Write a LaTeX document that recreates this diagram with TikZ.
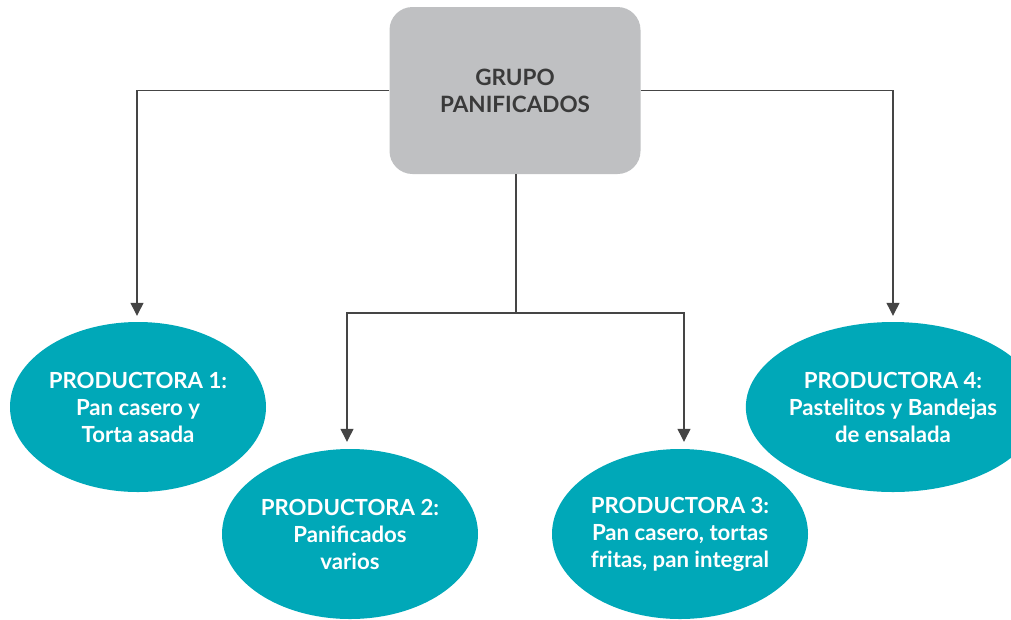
\documentclass[tikz,border=0pt]{standalone}
\usepackage{fontspec}
\setmainfont{Lato}
\usetikzlibrary{shapes.geometric,arrows.meta}
\definecolor{prodteal}{HTML}{00A8B8}
\definecolor{boxgray}{HTML}{BFC0C2}
\definecolor{linegray}{HTML}{454545}
\definecolor{textgray}{HTML}{3A3A3A}
\begin{document}
\begin{tikzpicture}[x=1pt,y=-1pt,
    prod/.style={ellipse,fill=prodteal,minimum width=256pt,minimum height=170pt,inner sep=0pt,
                 text=white,align=center,font=\fontsize{22.2}{27}\selectfont\bfseries},
    link/.style={draw=linegray,line width=1.2pt},
    arr/.style={link,-{Triangle[width=13pt,length=13pt]}}]
\useasboundingbox (0,0) rectangle (1011,619);
% grupo
\node[rounded corners=23pt,fill=boxgray,minimum width=251pt,minimum height=167pt,inner sep=0pt,
      text=textgray,align=center,font=\fontsize{22.5}{27}\selectfont\bfseries] (grupo) at (515,90.5) {GRUPO\\PANIFICADOS};
% productoras
\node[prod] (p1) at (138,407) {PRODUCTORA 1:\\Pan casero y\\Torta asada};
\node[prod] (p2) at (350,534) {PRODUCTORA 2:\\Panificados\\varios};
\node[prod] (p3) at (680,534) {PRODUCTORA 3:\\Pan casero, tortas\\fritas, pan integral};
\node[prod] (p4) at (893,407) {PRODUCTORA 4:\\Pastelitos y Bandejas\\de ensalada};
% conectores
\coordinate (split) at (516,313);
\draw[link] (grupo.south -| split) -- (split);
\draw[arr] (grupo.west) -| ([xshift=-1pt,yshift=6pt]p1.north);
\draw[arr] (grupo.east) -| ([yshift=6pt]p4.north);
\draw[arr] (split) -| ([xshift=-3pt,yshift=7pt]p2.north);
\draw[arr] (split) -| ([xshift=4pt,yshift=7pt]p3.north);
\end{tikzpicture}
\end{document}
